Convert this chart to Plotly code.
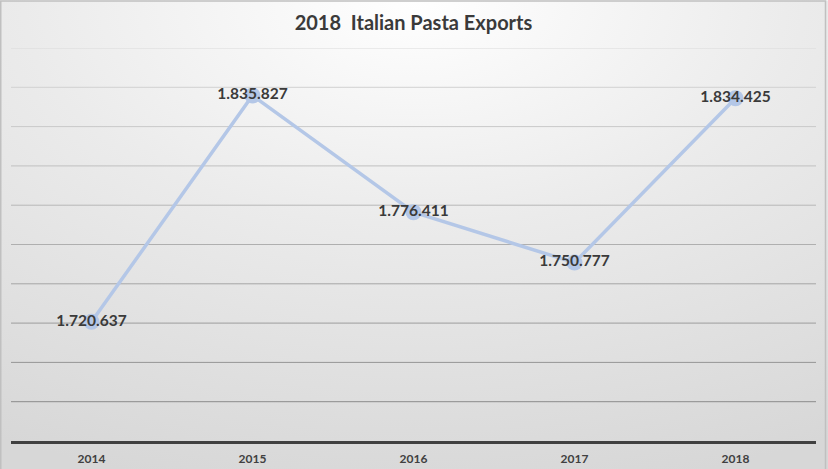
import base64
import plotly.graph_objects as go

# data
years = ["2014", "2015", "2016", "2017", "2018"]
exports = [1720637, 1835827, 1776411, 1750777, 1834425]
title_text = "2018  Italian Pasta Exports"

# the page is shot a little taller than the window, so stretch to fill it
W, H = 828, 477
ml, mr, mt, mb = 11, 12, 48, 34
pw, ph = W - ml - mr, H - mt - mb

y_min, y_max, y_step = 1660000, 1860000, 20000

# soft radial background like the office chart style
svg = (
    "<svg xmlns='http://www.w3.org/2000/svg' width='828' height='477'>"
    "<defs><radialGradient id='g' cx='0.5' cy='0' r='1.05'>"
    "<stop offset='0' stop-color='#ffffff'/>"
    "<stop offset='0.45' stop-color='#ebebeb'/>"
    "<stop offset='1' stop-color='#d7d7d7'/>"
    "</radialGradient></defs>"
    "<rect width='828' height='477' fill='url(#g)'/></svg>"
)
bg_src = "data:image/svg+xml;base64," + base64.b64encode(svg.encode()).decode()

fig = go.Figure()
fig.add_trace(go.Scatter(
    x=years, y=exports,
    mode="lines+markers+text",
    line=dict(color="#b4c7e7", width=3.5),
    marker=dict(size=16, color="#b4c7e7"),
    texttemplate="%{y:,}",
    textposition="middle center",
    textfont=dict(family="Lato", size=15.5, color="#3a3a3a", weight="bold"),
    showlegend=False,
    hoverinfo="skip",
))

# gridlines get darker towards the bottom
grid_vals = list(range(y_min + y_step, y_max + 1, y_step))
n = len(grid_vals)
shapes = []
for i, v in enumerate(grid_vals):
    t = i / (n - 1)
    c = int(round(0x8c + (0xda - 0x8c) * t))
    shapes.append(dict(
        type="line", xref="paper", yref="y", x0=0, x1=1, y0=v, y1=v,
        line=dict(color="rgb(%d,%d,%d)" % (c, c, c), width=1), layer="below",
    ))
# outer frame
shapes.append(dict(
    type="rect", xref="paper", yref="paper",
    x0=-(ml - 0.75) / pw, x1=1 + (mr - 2.5) / pw,
    y0=-(mb - 3.5) / ph, y1=1 + (mt - 0.75) / ph,
    line=dict(color="#c0c0c0", width=1.5), layer="below",
))

fig.update_layout(
    width=W, height=H, autosize=False,
    margin=dict(l=ml, r=mr, t=mt, b=mb),
    paper_bgcolor="rgba(0,0,0,0)",
    plot_bgcolor="rgba(0,0,0,0)",
    separators=",.",
    title=dict(
        text=title_text, x=0.5, xref="paper", xanchor="center",
        y=1 - 23.4 / H, yanchor="middle",
        font=dict(family="Lato", size=20, color="#3a3a3a", weight="bold"),
    ),
    shapes=shapes,
    images=[dict(
        source=bg_src, xref="paper", yref="paper",
        x=-ml / pw, y=1 + mt / ph, sizex=W / pw, sizey=H / ph,
        xanchor="left", yanchor="top", sizing="stretch", layer="below",
    )],
    xaxis=dict(
        range=[-0.5, 4.5], showgrid=False, zeroline=False,
        showline=True, linecolor="#404040", linewidth=2.5,
        ticks="", ticklabelstandoff=5,
        tickfont=dict(family="Lato", size=12, color="#404040", weight="bold"),
    ),
    yaxis=dict(
        range=[y_min, y_max], showgrid=False, zeroline=False,
        showticklabels=False, showline=False,
    ),
)

fig.write_html(
    "out.html",
    config={"displayModeBar": False, "responsive": False},
    post_script="document.body.style.margin='0';document.body.style.overflow='hidden';",
)
